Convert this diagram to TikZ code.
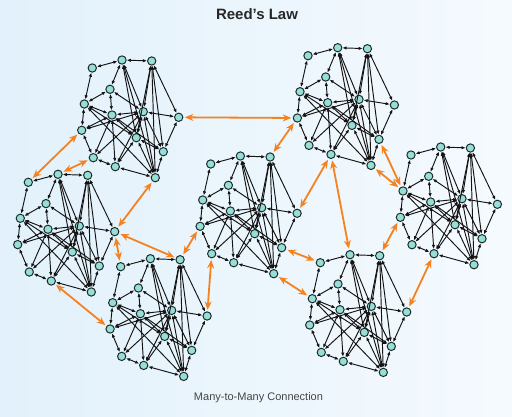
\documentclass[tikz,border=0pt]{standalone}
\usepackage{fontspec}
\setmainfont{Liberation Sans}
\usepackage{tikz}
\usetikzlibrary{arrows.meta}
\definecolor{bgleft}{RGB}{226,241,251}
\definecolor{bgright}{RGB}{245,250,254}
\definecolor{peerfill}{RGB}{152,222,214}
\definecolor{peerline}{RGB}{25,45,45}
\definecolor{linkcol}{RGB}{20,20,20}
\definecolor{bridgecol}{RGB}{245,130,32}
\definecolor{titlecol}{RGB}{40,40,40}
\definecolor{notecol}{RGB}{70,70,70}

\begin{document}
\begin{tikzpicture}[x=1pt, y=-1pt,
    peer/.style={circle, draw=peerline, fill=peerfill, line width=1pt, inner sep=0pt, minimum size=8.3pt},
    link/.style={draw=linkcol, line width=0.95pt, {Latex[length=4.2pt,width=3.4pt]}-{Latex[length=4.2pt,width=3.4pt]}},
    bridge/.style={draw=bridgecol, line width=1.8pt, {Stealth[length=8.5pt,width=7pt]}-{Stealth[length=8.5pt,width=7pt]}, shorten <=1.5pt, shorten >=1.5pt}]
  % background
  \shade[left color=bgleft, right color=bgright] (0,0) rectangle (512,417);
  \useasboundingbox (0,0) rectangle (512,417);
  \node[font=\bfseries\fontsize{15}{17}\selectfont, text=titlecol] (title) at (257,14.5) {Reed’s Law};
  \node[font=\fontsize{11}{13}\selectfont, text=notecol] (note) at (258.5,397.5) {Many-to-Many Connection};

  % seven groups, same shape each
  \foreach \k/\gx/\gy in {1/92.3/68, 2/28.3/182.3, 3/120.7/266.7, 4/210.7/164, 5/308/55.7, 6/411/155, 7/320.3/262.7}{
    \foreach \p/\dx/\dy in {A/0/0, B/29.7/-8, C/59.4/-7, D/17.7/21.3, E/-8/36, F/19.7/47, G/51/43.7,
                            H/86.4/49.3, I/-10.6/62.3, J/44/69.7, K/71/83.7, L/1/89.7, M/23/98.7, N/63/109.7}
      \node[peer] (g\k\p) at (\gx+\dx, \gy+\dy) {};
  }
  \foreach \k in {1,...,7}{
    \foreach \u/\v in {A/B, B/C, A/E, B/D, B/G, B/J, B/N, C/G, C/J, C/K, C/N, C/H, D/E, D/F, D/G,
                       E/F, E/I, E/J, E/N, F/G, F/I, F/L, F/M, F/J, F/K, G/H, G/J, G/K, G/N, G/L, G/M,
                       H/K, I/L, I/G, J/K, J/M, J/N, K/N, L/M, M/N}
      \draw[link] (g\k\u) -- (g\k\v);
  }

  % links between groups
  \draw[bridge] (g1H) -- (g5I);
  \draw[bridge] (g1I) -- (g2A);
  \draw[bridge] (g1L) -- (g2B);
  \draw[bridge] (g1N) -- (g2H);
  \draw[bridge] (g2H) -- (g3A);
  \draw[bridge] (g2H) -- (g3C);
  \draw[bridge] (g2M) -- (g3I);
  \draw[bridge] (g3C) -- (g4I);
  \draw[bridge] (g3H) -- (g4L);
  \draw[bridge] (g4C) -- (g5I);
  \draw[bridge] (g4H) -- (g5M);
  \draw[bridge] (g5M) -- (g7B);
  \draw[bridge] (g5K) -- (g6E);
  \draw[bridge] (g5N) -- (g6E);
  \draw[bridge] (g6I) -- (g7C);
  \draw[bridge] (g6M) -- (g7H);
  \draw[bridge] (g4K) -- (g7A);
  \draw[bridge] (g4N) -- (g7E);
\end{tikzpicture}
\end{document}
